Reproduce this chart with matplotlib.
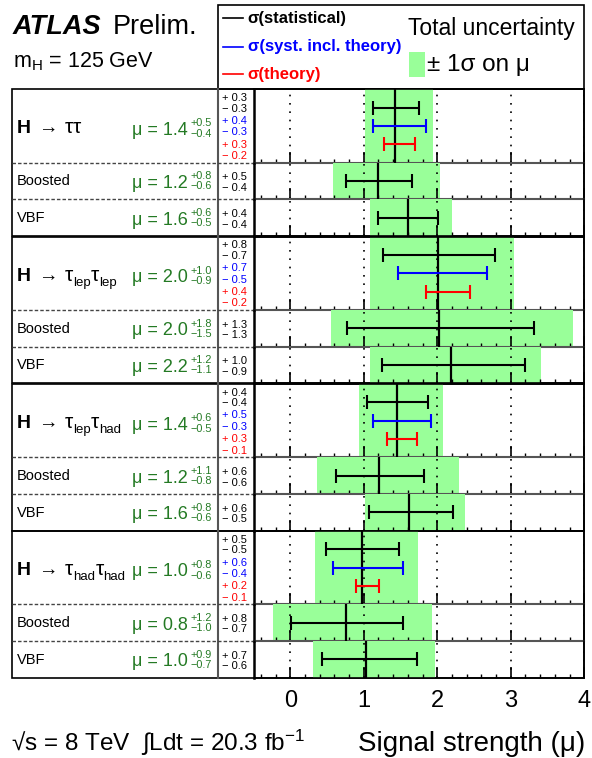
import matplotlib
matplotlib.use("Agg")
import matplotlib.pyplot as plt
from matplotlib.patches import Rectangle
from matplotlib.ticker import MultipleLocator

plt.rcParams['font.family'] = ['Liberation Sans', 'DejaVu Sans']
plt.rcParams['mathtext.fontset'] = 'custom'
plt.rcParams['mathtext.rm'] = 'Liberation Sans'
plt.rcParams['mathtext.it'] = 'Liberation Sans:italic'
plt.rcParams['mathtext.bf'] = 'Liberation Sans:bold'
plt.rcParams['mathtext.default'] = 'rm'

# ---------------------------------------------------------------------
# data (12 rows: 4 channels x [combined, Boosted, VBF])
# ---------------------------------------------------------------------
channel_taus = [[("τ", ""), ("τ", "")],
                [("τ", "lep"), ("τ", "lep")],
                [("τ", "lep"), ("τ", "had")],
                [("τ", "had"), ("τ", "had")]]
sub_names = ["Boosted", "VBF"]

mu_val = [1.43, 1.20, 1.60, 2.01, 2.03, 2.18, 1.45, 1.21, 1.62, 0.97, 0.755, 1.03]
tot_up = [0.51, 0.84, 0.60, 1.03, 1.82, 1.23, 0.63, 1.08, 0.76, 0.77, 1.175, 0.94]
tot_dn = [0.42, 0.625, 0.51, 0.92, 1.47, 1.10, 0.52, 0.84, 0.61, 0.63, 0.985, 0.72]
stat_up = [0.32, 0.46, 0.41, 0.78, 1.29, 1.02, 0.42, 0.61, 0.59, 0.51, 0.785, 0.69]
stat_dn = [0.30, 0.44, 0.40, 0.75, 1.26, 0.93, 0.40, 0.59, 0.55, 0.49, 0.745, 0.60]
syst_up = [0.41, 0.67, 0.47, 0.57]     # combined rows only
syst_dn = [0.30, 0.54, 0.33, 0.39]
theo_up = [0.27, 0.43, 0.28, 0.24]
theo_dn = [0.15, 0.16, 0.14, 0.07]

mu_txt = ["1.4", "1.2", "1.6", "2.0", "2.0", "2.2", "1.4", "1.2", "1.6", "1.0", "0.8", "1.0"]
tot_up_txt = ["+0.5", "+0.8", "+0.6", "+1.0", "+1.8", "+1.2", "+0.6", "+1.1", "+0.8", "+0.8", "+1.2", "+0.9"]
tot_dn_txt = ["−0.4", "−0.6", "−0.5", "−0.9", "−1.5", "−1.1", "−0.5", "−0.8", "−0.6", "−0.6", "−1.0", "−0.7"]
stat_txt = [("0.3", "0.3"), ("0.5", "0.4"), ("0.4", "0.4"), ("0.8", "0.7"), ("1.3", "1.3"), ("1.0", "0.9"),
            ("0.4", "0.4"), ("0.6", "0.6"), ("0.6", "0.5"), ("0.5", "0.5"), ("0.8", "0.7"), ("0.7", "0.6")]
syst_txt = [("0.4", "0.3"), ("0.7", "0.5"), ("0.5", "0.3"), ("0.6", "0.4")]
theo_txt = [("0.3", "0.2"), ("0.4", "0.2"), ("0.3", "0.1"), ("0.2", "0.1")]

xticks = [0, 1, 2, 3, 4]
legend_labels = ["σ(statistical)", "σ(syst. incl. theory)", "σ(theory)"]
legend_colors = ["black", "blue", "red"]

# ---------------------------------------------------------------------
# layout (pixel units)
# ---------------------------------------------------------------------
W, H = 592, 758
GREEN = '#99ff99'
DGREEN = '#247a24'
X0, XL, XM, X1 = 12, 218, 253.5, 584.3
group_top = [89.3, 236.7, 384.0, 531.0]
row_h = [73.2, 36.7, 36.7]

fig = plt.figure(figsize=(W / 100, H / 100), dpi=100)
ov = fig.add_axes([0, 0, 1, 1])
ov.set_xlim(0, W)
ov.set_ylim(H, 0)
ov.axis('off')
rend = fig.canvas.get_renderer()


def chain(x, y, pieces):
    for s, size, weight, dy, gap in pieces:
        t = ov.text(x, y + dy, s, fontsize=size, fontweight=weight, va='baseline')
        x = t.get_window_extent(renderer=rend).x1 + gap


# header
ov.text(12.7, 34.3, "ATLAS", fontsize=19.5, fontweight='bold', fontstyle='italic', va='baseline')
ov.text(113, 34.3, "Prelim.", fontsize=19.5, va='baseline')
ov.text(12.7, 67.7, r"$\mathrm{m}_{\mathrm{H}}$ = 125 GeV", fontsize=15.5, va='baseline')

ov.add_patch(Rectangle((XL, 4.7), X1 - XL, group_top[0] - 4.7, fill=False, ec='black', lw=1.2))
for y, c, s in zip([18, 47, 74], legend_colors, legend_labels):
    ov.plot([222.7, 243.3], [y, y], color=c, lw=1.2)
    ov.text(247.7, y, s, color=c, fontsize=12, fontweight='bold', va='center')
ov.text(408.3, 35, "Total uncertainty", fontsize=16.5, va='baseline')
ov.add_patch(Rectangle((409, 51.7), 16, 25, color=GREEN, lw=0))
ov.text(427, 71, "± 1σ on μ", fontsize=17.5, va='baseline')

mid_main = [8.6, 19.4, 31.5, 42.9, 55.2, 66.6]

for g in range(4):
    top = group_top[g]
    gh = sum(row_h)
    ov.add_patch(Rectangle((X0, top), X1 - X0, gh, fill=False, ec='black', lw=1.2))
    ov.plot([XL, XL], [top, top + gh], color='#555555', lw=1.5)
    ys = top
    for k in range(3):
        i = 3 * g + k
        h = row_h[k]
        if k > 0:
            ov.plot([X0, XM], [ys, ys], color='#444444', lw=1, ls=(0, (2.5, 1.5)))

        ax = fig.add_axes([XM / W, 1 - (ys + h) / H, (X1 - XM) / W, h / H])
        ax.set_facecolor('none')
        ax.set_xlim(-0.5, 4.0)
        ax.set_ylim(0, 1)
        ax.barh(0.5, tot_up[i] + tot_dn[i], left=mu_val[i] - tot_dn[i], height=1,
                color=GREEN, zorder=0)
        ax.set_xticks(xticks)
        ax.xaxis.set_minor_locator(MultipleLocator(0.2))
        ax.set_yticks([])
        ax.grid(axis='x', which='major', color='black', lw=1.2, ls=(0, (1, 4)))
        ax.tick_params(axis='x', which='both', direction='in', top=False, bottom=True,
                       labelbottom=(i == 11), labelsize=17, pad=9)
        ax.tick_params(axis='x', which='major', length=8, width=1.2)
        ax.tick_params(axis='x', which='minor', length=3, width=1)

        if k == 0:
            bars = [(0.75, stat_up[i], stat_dn[i], 'black'),
                    (0.5, syst_up[g], syst_dn[g], 'blue'),
                    (0.25, theo_up[g], theo_dn[g], 'red')]
        else:
            bars = [(0.5, stat_up[i], stat_dn[i], 'black')]
        for y, up, dn, c in bars:
            ax.errorbar(mu_val[i], y, xerr=[[dn], [up]], fmt='none', ecolor=c,
                        elinewidth=1.5, capsize=5, capthick=1.5, zorder=4)
        ax.axvline(mu_val[i], color='black', lw=1.6, zorder=3)

        ax.spines['left'].set_linewidth(1.8)
        ax.spines['right'].set_linewidth(1.2)
        if k == 0:
            ax.spines['top'].set_linewidth(1.2)
        else:
            ax.spines['top'].set_visible(False)
        if k == 2:
            ax.spines['bottom'].set_linewidth(1.2)
        else:
            ax.spines['bottom'].set_color('#555555')
            ax.spines['bottom'].set_linewidth(1.5)

        # label panel
        if k == 0:
            pieces = [("H", 14, 'bold', 0, 7), ("→", 14, 'normal', 0, 7)]
            for tau, sub in channel_taus[g]:
                pieces.append(("τ", 15, 'normal', 0, 0))
                if sub:
                    pieces.append((sub, 9.5, 'normal', 5, 0.5))
            chain(17, ys + 44, pieces)
            mtxt = ["+ " + stat_txt[i][0], "− " + stat_txt[i][1],
                    "+ " + syst_txt[g][0], "− " + syst_txt[g][1],
                    "+ " + theo_txt[g][0], "− " + theo_txt[g][1]]
            mcol = ['black', 'black', 'blue', 'blue', 'red', 'red']
            for off, s, c in zip(mid_main, mtxt, mcol):
                ov.text(222.5, ys + off, s, color=c, fontsize=8, va='center')
            ov.text(188, ys + 45.5, "μ = " + mu_txt[i], color=DGREEN, fontsize=13,
                    ha='right', va='baseline')
            ov.text(190.5, ys + 34, tot_up_txt[i], color=DGREEN, fontsize=7.8, va='center')
            ov.text(190.5, ys + 44.6, tot_dn_txt[i], color=DGREEN, fontsize=7.8, va='center')
        else:
            ov.text(17, ys + h / 2 + 0.5, sub_names[k - 1], fontsize=10.5, va='center')
            ov.text(222.5, ys + 14.6, "+ " + stat_txt[i][0], fontsize=8, va='center')
            ov.text(222.5, ys + 25.3, "− " + stat_txt[i][1], fontsize=8, va='center')
            ov.text(188, ys + 25.5, "μ = " + mu_txt[i], color=DGREEN, fontsize=13,
                    ha='right', va='baseline')
            ov.text(190.5, ys + 13.8, tot_up_txt[i], color=DGREEN, fontsize=7.8, va='center')
            ov.text(190.5, ys + 23.9, tot_dn_txt[i], color=DGREEN, fontsize=7.8, va='center')
        ys += h

# footer
ov.text(11, 751, "√s = 8 TeV  ∫Ldt = 20.3 fb$^{-1}$", fontsize=17.5, va='baseline')
ov.text(585, 751, "Signal strength (μ)", fontsize=20, ha='right', va='baseline')

fig.savefig("out.png", dpi=100)
